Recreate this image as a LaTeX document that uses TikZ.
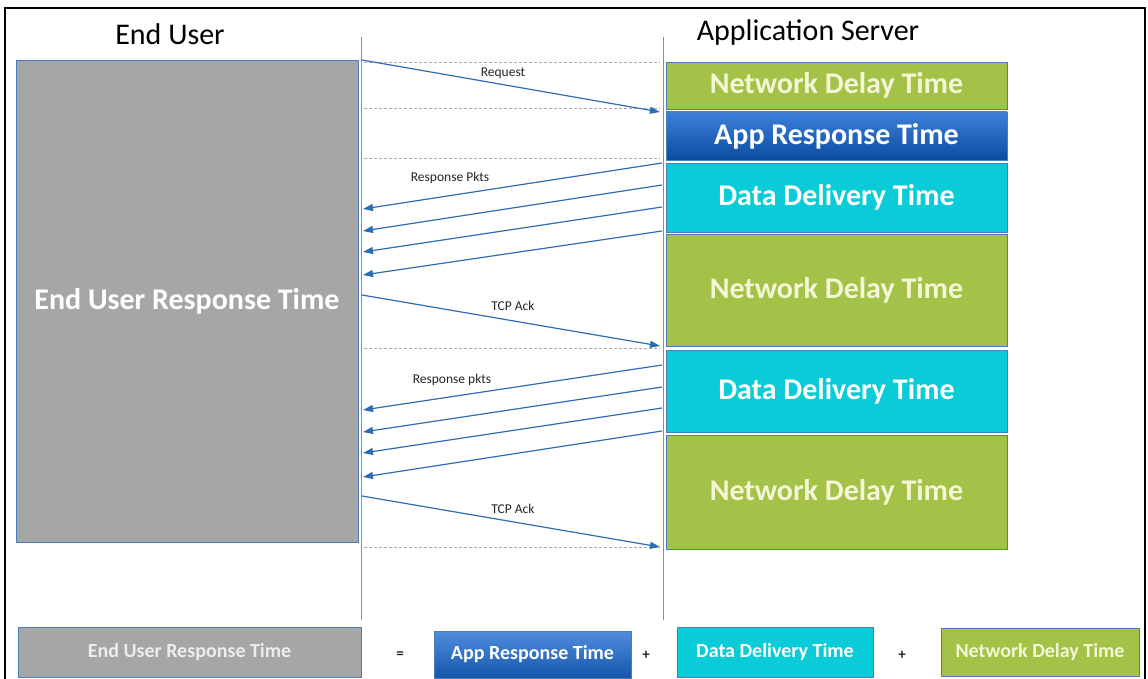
\documentclass[tikz,border=0pt]{standalone}
\usepackage{fontspec}
\setmainfont{Carlito}
\usetikzlibrary{arrows.meta}
\definecolor{grn}{RGB}{164,193,72}
\definecolor{cyn}{RGB}{10,204,216}
\definecolor{blueT}{RGB}{62,128,218}
\definecolor{blueB}{RGB}{10,76,160}
\definecolor{gry}{RGB}{166,166,166}
\definecolor{arr}{RGB}{46,108,180}
\definecolor{life}{RGB}{91,155,213}
\definecolor{edge}{RGB}{74,126,187}
\definecolor{gtext}{RGB}{244,247,214}
\definecolor{dashc}{RGB}{170,170,170}
\begin{document}
\begin{tikzpicture}[x=1pt,y=-1pt,
  bigfont/.style={font=\fontsize{30}{36}\selectfont},
  boldbig/.style={font=\fontsize{30}{36}\selectfont\bfseries},
  midfont/.style={font=\fontsize{20}{24}\selectfont\bfseries},
  smallfont/.style={font=\fontsize{13.5}{16}\selectfont},
  tbox/.style={draw=edge, line width=0.9pt, inner sep=0pt, minimum width=341pt, boldbig},
  greenbox/.style={tbox, fill=grn, text=gtext},
  cyanbox/.style={tbox, fill=cyn, text=white},
  bluebox/.style={tbox, top color=blueT, bottom color=blueB, text=white},
  lbox/.style={draw=edge, line width=0.9pt, inner sep=0pt, midfont},
  lifeline/.style={draw=life, line width=1pt},
  guide/.style={draw=dashc, line width=0.8pt, dash pattern=on 3pt off 2pt},
  msg/.style={draw=arr, line width=1.2pt, -{Triangle[length=10pt,width=7pt]}},
  lbl/.style={smallfont, text=black!85, inner sep=1pt},
  op/.style={font=\fontsize{15}{18}\selectfont\bfseries, text=black!85}
]
\useasboundingbox (0,0) rectangle (1148,679);
\fill[white] (0,0) rectangle (1148,679);
\draw[black, line width=1.6pt] (5,679) -- (5,8) -- (1145,8) -- (1145,679);

% titles
\node[bigfont] (tEU) at (170,34) {End User};
\node[bigfont] (tAS) at (808,33) {Application Server};

% big end user box
\node[draw=edge, line width=0.9pt, fill=gry, text=white, boldbig, inner sep=0pt,
      minimum width=342pt, minimum height=482pt] (eurt) at (187,301) {End User Response Time};

% lifelines
\coordinate (u0) at (361,37);
\coordinate (u1) at (361,620);
\coordinate (s0) at (663,37);
\coordinate (s1) at (663,620);
\draw[lifeline] (u0) -- (u1);
\draw[lifeline] (s0) -- (s1);

% dashed guides
\foreach \y [count=\i] in {62,108,158,348,547} {
  \coordinate (ga\i) at (364,\y);
  \coordinate (gb\i) at (660,\y);
  \draw[guide] (ga\i) -- (gb\i);
}

% right column boxes
\node[greenbox, minimum height=47pt] (b1) at (836.5,85.5) {Network Delay Time};
\node[bluebox,  minimum height=48pt] (b2) at (836.5,136) {App Response Time};
\node[cyanbox,  minimum height=69pt] (b3) at (836.5,197.5) {Data Delivery Time};
\node[greenbox, minimum height=112pt] (b4) at (836.5,290) {Network Delay Time};
\node[cyanbox,  minimum height=82pt] (b5) at (836.5,391) {Data Delivery Time};
\node[greenbox, minimum height=114pt] (b6) at (836.5,492) {Network Delay Time};

% request
\coordinate (rqA) at (362,60);
\coordinate (rqB) at (660,112);
\draw[msg] (rqA) -- (rqB);
\node[lbl] (lrq) at (503,73) {Request};

% response pkts 1
\foreach \ys/\ye [count=\i] in {163/209,185/231,207/252,231/275} {
  \coordinate (pA\i) at (662,\ys);
  \coordinate (pB\i) at (363,\ye);
  \draw[msg] (pA\i) -- (pB\i);
}
\node[lbl] (lrp1) at (450,178) {Response Pkts};

% TCP ack 1
\coordinate (a1A) at (362,295);
\coordinate (a1B) at (660,346);
\draw[msg] (a1A) -- (a1B);
\node[lbl] (lack1) at (513,306) {TCP Ack};

% response pkts 2
\foreach \ys/\ye [count=\i] in {365/410,387/432,408/453,431/477} {
  \coordinate (qA\i) at (662,\ys);
  \coordinate (qB\i) at (363,\ye);
  \draw[msg] (qA\i) -- (qB\i);
}
\node[lbl] (lrp2) at (452,380) {Response pkts};

% TCP ack 2
\coordinate (a2A) at (362,496);
\coordinate (a2B) at (660,547);
\draw[msg] (a2A) -- (a2B);
\node[lbl] (lack2) at (513,509) {TCP Ack};

% legend
\node[lbox, fill=gry, text=black!7, minimum width=343pt, minimum height=50pt] (k1) at (189.5,652) {End User Response Time};
\node[op] (eq) at (400,655) {=};
\node[lbox, top color=blueT!90!white, bottom color=blueB!80!blueT, text=white, minimum width=197pt, minimum height=47pt] (k2) at (532.5,654.5) {App Response Time};
\node[op] (pl1) at (646,655) {+};
\node[lbox, fill=cyn, text=white, minimum width=196pt, minimum height=50pt] (k3) at (775,652) {Data Delivery Time};
\node[op] (pl2) at (902,655) {+};
\node[lbox, fill=grn, text=gtext, minimum width=198pt, minimum height=48pt] (k4) at (1040,652) {Network Delay Time};
\end{tikzpicture}
\end{document}
